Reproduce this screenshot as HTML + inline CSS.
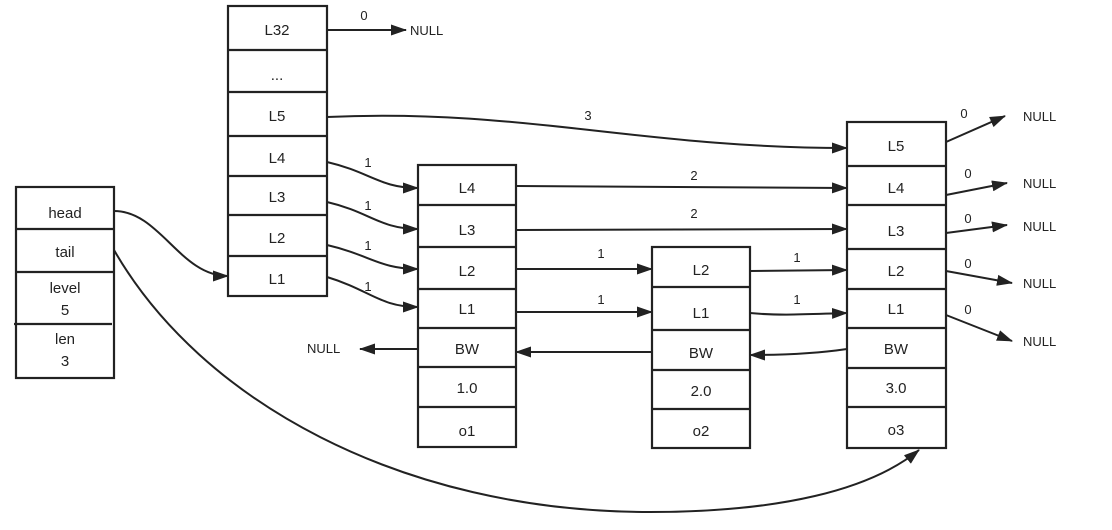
<!DOCTYPE html>
<html><head><meta charset="utf-8"><style>
html,body{margin:0;padding:0;background:#fff;}
svg text{font-family:"Liberation Sans","DejaVu Sans",sans-serif;fill:#222;}
</style></head><body>
<svg width="1112" height="525" viewBox="0 0 1112 525" xmlns="http://www.w3.org/2000/svg">
<defs>
<marker id="a" markerWidth="16" markerHeight="12" refX="15" refY="6" orient="auto" markerUnits="userSpaceOnUse">
<path d="M0,0.5 L16,6 L0,11.5 z" fill="#222"/>
</marker>
</defs>
<g fill="none" stroke="#222" stroke-width="2.2">
<rect x="16" y="187" width="98" height="191"/>
<line x1="16" y1="229" x2="114" y2="229"/>
<line x1="16" y1="272" x2="114" y2="272"/>
<line x1="14" y1="324" x2="112" y2="324"/>
<rect x="228" y="6" width="99" height="290"/>
<line x1="228" y1="50" x2="327" y2="50"/>
<line x1="228" y1="92" x2="327" y2="92"/>
<line x1="228" y1="136" x2="327" y2="136"/>
<line x1="228" y1="176" x2="327" y2="176"/>
<line x1="228" y1="215" x2="327" y2="215"/>
<line x1="228" y1="256" x2="327" y2="256"/>
<rect x="418" y="165" width="98" height="282"/>
<line x1="418" y1="205" x2="516" y2="205"/>
<line x1="418" y1="247" x2="516" y2="247"/>
<line x1="418" y1="289" x2="516" y2="289"/>
<line x1="418" y1="328" x2="516" y2="328"/>
<line x1="418" y1="367" x2="516" y2="367"/>
<line x1="418" y1="407" x2="516" y2="407"/>
<rect x="652" y="247" width="98" height="201"/>
<line x1="652" y1="287" x2="750" y2="287"/>
<line x1="652" y1="330" x2="750" y2="330"/>
<line x1="652" y1="370" x2="750" y2="370"/>
<line x1="652" y1="409" x2="750" y2="409"/>
<rect x="847" y="122" width="99" height="326"/>
<line x1="847" y1="166" x2="946" y2="166"/>
<line x1="847" y1="205" x2="946" y2="205"/>
<line x1="847" y1="249" x2="946" y2="249"/>
<line x1="847" y1="289" x2="946" y2="289"/>
<line x1="847" y1="328" x2="946" y2="328"/>
<line x1="847" y1="368" x2="946" y2="368"/>
<line x1="847" y1="407" x2="946" y2="407"/>
</g>
<g fill="none" stroke="#222" stroke-width="2" marker-end="url(#a)">
<path d="M327,30 L406,30"/>
<path d="M327,117 C520,108 640,148 847,148"/>
<path d="M114,211 C160,211 180,276 228,276"/>
<path d="M114,250 C200,400 400,512 650,512 C780,512 870,490 919,450"/>
<path d="M327,162 C370,172 380,188 418,188"/>
<path d="M327,202 C370,212 380,229 418,229"/>
<path d="M327,245 C370,255 380,269 418,269"/>
<path d="M327,277 C370,290 380,307 418,307"/>
<path d="M516,186 L847,188"/>
<path d="M516,230 L847,229"/>
<path d="M516,269 L652,269"/>
<path d="M516,312 L652,312"/>
<path d="M418,349 L360,349"/>
<path d="M652,352 L516,352"/>
<path d="M847,349 C820,353 790,355 750,355"/>
<path d="M750,271 L847,270"/>
<path d="M750,313 C780,316 810,314 847,313"/>
<path d="M946,142 L1005,116"/>
<path d="M946,195 L1007,183"/>
<path d="M946,233 L1007,225"/>
<path d="M946,271 L1012,283"/>
<path d="M946,315 L1012,341"/>
</g>
<g font-size="15" text-anchor="middle">
<text x="65" y="218">head</text>
<text x="65" y="257">tail</text>
<text x="65" y="293">level</text>
<text x="65" y="315">5</text>
<text x="65" y="344">len</text>
<text x="65" y="366">3</text>
<text x="277" y="35">L32</text>
<text x="277" y="80">...</text>
<text x="277" y="121">L5</text>
<text x="277" y="163">L4</text>
<text x="277" y="202">L3</text>
<text x="277" y="243">L2</text>
<text x="277" y="284">L1</text>
<text x="467" y="193">L4</text>
<text x="467" y="235">L3</text>
<text x="467" y="276">L2</text>
<text x="467" y="314">L1</text>
<text x="467" y="354">BW</text>
<text x="467" y="393">1.0</text>
<text x="467" y="436">o1</text>
<text x="701" y="275">L2</text>
<text x="701" y="318">L1</text>
<text x="701" y="358">BW</text>
<text x="701" y="396">2.0</text>
<text x="701" y="436">o2</text>
<text x="896" y="151">L5</text>
<text x="896" y="193">L4</text>
<text x="896" y="236">L3</text>
<text x="896" y="276">L2</text>
<text x="896" y="314">L1</text>
<text x="896" y="354">BW</text>
<text x="896" y="393">3.0</text>
<text x="896" y="435">o3</text>
</g>
<g font-size="13" text-anchor="middle">
<text x="364" y="20">0</text>
<text x="588" y="120">3</text>
<text x="368" y="167">1</text>
<text x="368" y="210">1</text>
<text x="368" y="250">1</text>
<text x="368" y="291">1</text>
<text x="694" y="180">2</text>
<text x="694" y="218">2</text>
<text x="601" y="258">1</text>
<text x="601" y="304">1</text>
<text x="797" y="262">1</text>
<text x="797" y="304">1</text>
<text x="964" y="118">0</text>
<text x="968" y="178">0</text>
<text x="968" y="223">0</text>
<text x="968" y="268">0</text>
<text x="968" y="314">0</text>
</g>
<g font-size="13">
<text x="410" y="35">NULL</text>
<text x="307" y="353">NULL</text>
<text x="1023" y="121">NULL</text>
<text x="1023" y="188">NULL</text>
<text x="1023" y="231">NULL</text>
<text x="1023" y="288">NULL</text>
<text x="1023" y="346">NULL</text>
</g>
</svg>
</body></html>
